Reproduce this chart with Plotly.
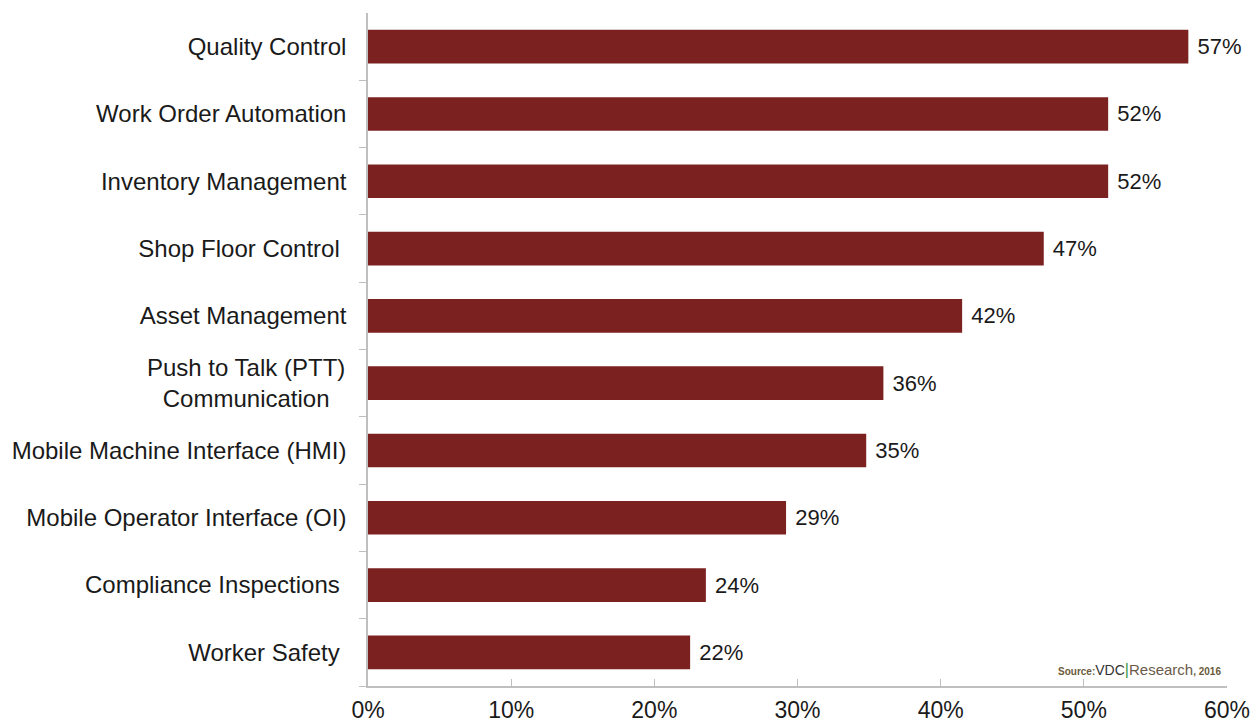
import plotly.graph_objects as go

categories = ["Quality Control", "Work Order Automation", "Inventory Management",
              "Shop Floor Control", "Asset Management", "Push to Talk (PTT) Communication",
              "Mobile Machine Interface (HMI)", "Mobile Operator Interface (OI)",
              "Compliance Inspections", "Worker Safety"]
category_tick_labels = ["Quality Control", "Work Order Automation", "Inventory Management",
                        "Shop Floor Control ", "Asset Management", "",
                        "Mobile Machine Interface (HMI)", "Mobile Operator Interface (OI)",
                        "Compliance Inspections ", "Worker Safety "]
two_line_label = ["Push to Talk (PTT)", "Communication"]
values = [57.3, 51.7, 51.7, 47.2, 41.5, 36.0, 34.8, 29.2, 23.6, 22.5]
value_labels = ["57%", "52%", "52%", "47%", "42%", "36%", "35%", "29%", "24%", "22%"]
x_ticks = [0, 10, 20, 30, 40, 50, 60]
x_tick_labels = ["0%", "10%", "20%", "30%", "40%", "50%", "60%"]

FONT = "Liberation Sans, Arial, sans-serif"

fig = go.Figure(go.Bar(
    y=categories, x=values, orientation="h",
    marker=dict(color="#7b2220", line=dict(width=0)),
    text=value_labels, texttemplate="\u00a0%{text}",
    textposition="outside", cliponaxis=False,
    textfont=dict(family=FONT, size=22, color="#1a1a1a"),
))

fig.update_layout(
    width=1257, height=725,
    margin=dict(l=368, r=30, t=13, b=39),
    plot_bgcolor="white", paper_bgcolor="white",
    bargap=0.5, showlegend=False,
    font=dict(family=FONT, color="#1a1a1a"),
    uniformtext=dict(minsize=22, mode="show"),
)
fig.update_yaxes(
    categoryorder="array", categoryarray=categories[::-1],
    tickmode="array", tickvals=categories, ticktext=category_tick_labels,
    tickson="boundaries", ticks="outside", ticklen=7, tickcolor="#bfbfbf",
    showline=True, linecolor="#bfbfbf", linewidth=1.5, automargin=False,
    showgrid=False, tickfont=dict(size=24, family=FONT, color="#1a1a1a"),
    ticklabelstandoff=15,
)
fig.update_xaxes(
    range=[0, 60], tickvals=x_ticks, ticktext=x_tick_labels,
    ticks="inside", ticklen=7, tickcolor="#bfbfbf",
    showline=True, linecolor="#bfbfbf", linewidth=1.5, automargin=False,
    showgrid=False, zeroline=False, tickfont=dict(size=23, family=FONT, color="#1a1a1a"),
    ticklabelstandoff=3,
)

# two-line, centred category label
fig.add_annotation(
    xref="paper", yref="y", x=-0.142, y=categories[5], xanchor="center", yanchor="middle",
    yshift=0, showarrow=False, text="<br>".join(two_line_label), align="center",
    font=dict(family=FONT, size=24, color="#1a1a1a"),
)

fig.add_annotation(
    xref="paper", yref="paper", x=0.995, y=0.024, xanchor="right", yanchor="middle",
    showarrow=False,
    text=("<b><span style='font-size:10px;color:#6b5a3a'>Source:</span></b>"
          "<span style='font-size:14px;color:#333333'>VDC</span>"
          "<span style='font-size:16px;color:#3a9a4a'>|</span>"
          "<span style='font-size:15px;color:#6b5a4a'>Research</span>"
          "<b><span style='font-size:10px;color:#6b5a3a'>, 2016</span></b>"),
    font=dict(family=FONT),
)

fig.write_html("out.html")
